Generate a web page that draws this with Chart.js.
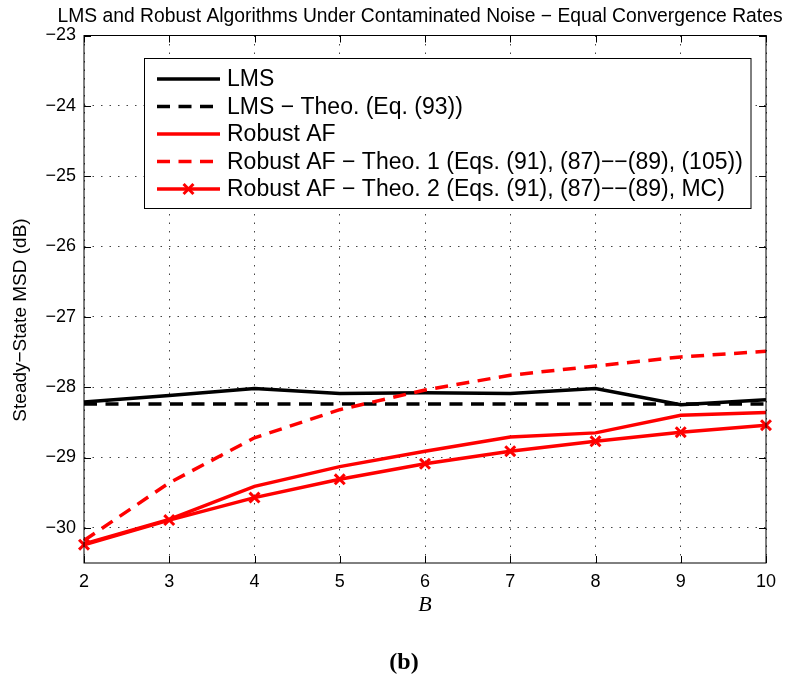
<!DOCTYPE html>
<html>
<head>
<meta charset="utf-8">
<script src="https://cdn.jsdelivr.net/npm/chart.js@4.4.0/dist/chart.umd.min.js"></script>
<style>
html, body { margin: 0; padding: 0; background: #fff; }
</style>
</head>
<body>
<canvas id="chart" width="795" height="684"></canvas>
<script>
// values (steady-state MSD in dB vs B)
const bValues = [2, 3, 4, 5, 6, 7, 8, 9, 10];
const lmsSim = [-28.21, -28.12, -28.02, -28.09, -28.08, -28.09, -28.02, -28.25, -28.18];
const lmsTheo = [-28.24, -28.24, -28.24, -28.24, -28.24, -28.24, -28.24, -28.24, -28.24];
const robustSim = [-30.23, -29.88, -29.41, -29.13, -28.91, -28.71, -28.65, -28.40, -28.36];
const robustTheo1 = [-30.18, -29.36, -28.72, -28.32, -28.04, -27.83, -27.70, -27.57, -27.49];
const robustTheo2 = [-30.24, -29.89, -29.57, -29.31, -29.09, -28.91, -28.77, -28.64, -28.54];
const yTicks = [-30, -29, -28, -27, -26, -25, -24, -23];
const xTicks = [2, 3, 4, 5, 6, 7, 8, 9, 10];

const seriesNames = [
    'LMS',
    'LMS \u2212 Theo. (Eq. (93))',
    'Robust AF',
    'Robust AF \u2212 Theo. 1 (Eqs. (91), (87)\u2212\u2212(89), (105))',
    'Robust AF \u2212 Theo. 2 (Eqs. (91), (87)\u2212\u2212(89), MC)'
];
const titleText = 'LMS and Robust Algorithms Under Contaminated Noise \u2212 Equal Convergence Rates';
const yLabel = 'Steady\u2212State MSD (dB)';

const sans = '"Liberation Sans", Arial, Helvetica, sans-serif';
const serif = '"Liberation Serif", "DejaVu Serif", serif';
const dash = [13, 8.5];

function toPoints(ys) {
    return bValues.map((b, i) => ({ x: b, y: ys[i] }));
}

function makeSet(i, ys, color, dashed, marker) {
    return {
        label: seriesNames[i],
        data: toPoints(ys),
        borderColor: color,
        backgroundColor: color,
        borderWidth: 3.5,
        borderDash: dashed ? dash : [],
        pointStyle: marker ? 'crossRot' : false,
        pointRadius: marker ? 7 : 0,
        pointBorderWidth: 3,
        tension: 0,
        clip: false,
        order: 5 - i
    };
}

// box + inward tick marks, MATLAB style, plus title and y label
const axesFrame = {
    id: 'axesFrame',
    afterDatasetsDraw(chart) {
        const { ctx, chartArea: a, scales } = chart;
        ctx.save();
        ctx.strokeStyle = '#000';
        ctx.lineWidth = 1;
        ctx.setLineDash([]);
        ctx.strokeRect(a.left, a.top, a.right - a.left, a.bottom - a.top);
        const tl = 7;
        ctx.beginPath();
        xTicks.forEach(v => {
            const px = Math.round(scales.x.getPixelForValue(v)) + 0.5;
            ctx.moveTo(px, a.bottom); ctx.lineTo(px, a.bottom - tl);
            ctx.moveTo(px, a.top); ctx.lineTo(px, a.top + tl);
        });
        yTicks.forEach(v => {
            const py = Math.round(scales.y.getPixelForValue(v)) + 0.5;
            ctx.moveTo(a.left, py); ctx.lineTo(a.left + tl, py);
            ctx.moveTo(a.right, py); ctx.lineTo(a.right - tl, py);
        });
        ctx.stroke();

        ctx.fillStyle = '#000';
        ctx.textAlign = 'center';
        ctx.textBaseline = 'middle';
        ctx.font = '19.3px ' + sans;
        ctx.fillText(titleText, 420, 16.5);

        // y label, placed a bit below the axes centre as in the figure
        ctx.save();
        ctx.translate(21, 320);
        ctx.rotate(-Math.PI / 2);
        ctx.font = '19px ' + sans;
        ctx.fillText(yLabel, 0, 0);
        ctx.restore();
        ctx.restore();
    }
};

// legend box drawn inside the axes, upper left
const boxLegend = {
    id: 'boxLegend',
    afterDraw(chart) {
        const ctx = chart.ctx;
        ctx.save();
        const x0 = 144.5, y0 = 58.5, w = 606.5, h = 150;
        ctx.fillStyle = '#fff';
        ctx.fillRect(x0, y0, w, h);
        ctx.strokeStyle = '#000';
        ctx.lineWidth = 1;
        ctx.strokeRect(x0, y0, w, h);
        chart.data.datasets.forEach((ds, i) => {
            const y = 79 + i * 27.5;
            ctx.strokeStyle = ds.borderColor;
            ctx.lineWidth = ds.borderWidth;
            ctx.setLineDash(ds.borderDash);
            ctx.beginPath();
            ctx.moveTo(157, y);
            ctx.lineTo(220, y);
            ctx.stroke();
            if (ds.pointStyle) {
                ctx.setLineDash([]);
                ctx.lineWidth = ds.pointBorderWidth;
                const r = ds.pointRadius * Math.SQRT1_2;
                const cx = 188.5;
                ctx.beginPath();
                ctx.moveTo(cx - r, y - r); ctx.lineTo(cx + r, y + r);
                ctx.moveTo(cx - r, y + r); ctx.lineTo(cx + r, y - r);
                ctx.stroke();
            }
            ctx.fillStyle = '#000';
            ctx.font = '23px ' + sans;
            ctx.textBaseline = 'middle';
            ctx.fillText(ds.label, 227, y + 1);
        });
        // panel tag under the x label
        ctx.font = 'bold 24px ' + serif;
        ctx.textAlign = 'center';
        ctx.textBaseline = 'middle';
        ctx.fillText('(b)', 404, 663);
        ctx.restore();
    }
};

const ctx = document.getElementById('chart').getContext('2d');
const chart = new Chart(ctx, {
    type: 'line',
    data: {
        datasets: [
            makeSet(0, lmsSim, '#000000', false, false),
            makeSet(1, lmsTheo, '#000000', true, false),
            makeSet(2, robustSim, '#ff0000', false, false),
            makeSet(3, robustTheo1, '#ff0000', true, false),
            makeSet(4, robustTheo2, '#ff0000', false, true)
        ]
    },
    options: {
        responsive: false,
        animation: false,
        layout: { padding: { left: 0, right: 29, top: 35.5, bottom: 0 } },
        plugins: {
            legend: { display: false },
            tooltip: { enabled: false },
            title: { display: false }
        },
        scales: {
            x: {
                type: 'linear',
                min: 2,
                max: 10,
                afterBuildTicks: axis => { axis.ticks = xTicks.map(v => ({ value: v })); },
                afterFit: axis => { axis.height = 121; },
                ticks: {
                    color: '#000',
                    font: { family: sans, size: 18 },
                    padding: 8,
                    maxRotation: 0
                },
                grid: { color: '#444', lineWidth: 1, drawTicks: false },
                border: { display: false, dash: [1.5, 7] },
                title: {
                    display: true,
                    text: 'B',
                    color: '#000',
                    font: { family: serif, size: 22, style: 'italic' },
                    padding: { top: 0, bottom: 66 }
                }
            },
            y: {
                min: -30.5,
                max: -23,
                afterBuildTicks: axis => { axis.ticks = yTicks.map(v => ({ value: v })); },
                afterFit: axis => { axis.width = 84; },
                ticks: {
                    color: '#000',
                    font: { family: sans, size: 18 },
                    padding: 8,
                    callback: v => String(v).replace('-', '\u2212')
                },
                grid: { color: '#444', lineWidth: 1, drawTicks: false },
                border: { display: false, dash: [1.5, 7] }
            }
        }
    },
    plugins: [axesFrame, boxLegend]
});
</script>
</body>
</html>
